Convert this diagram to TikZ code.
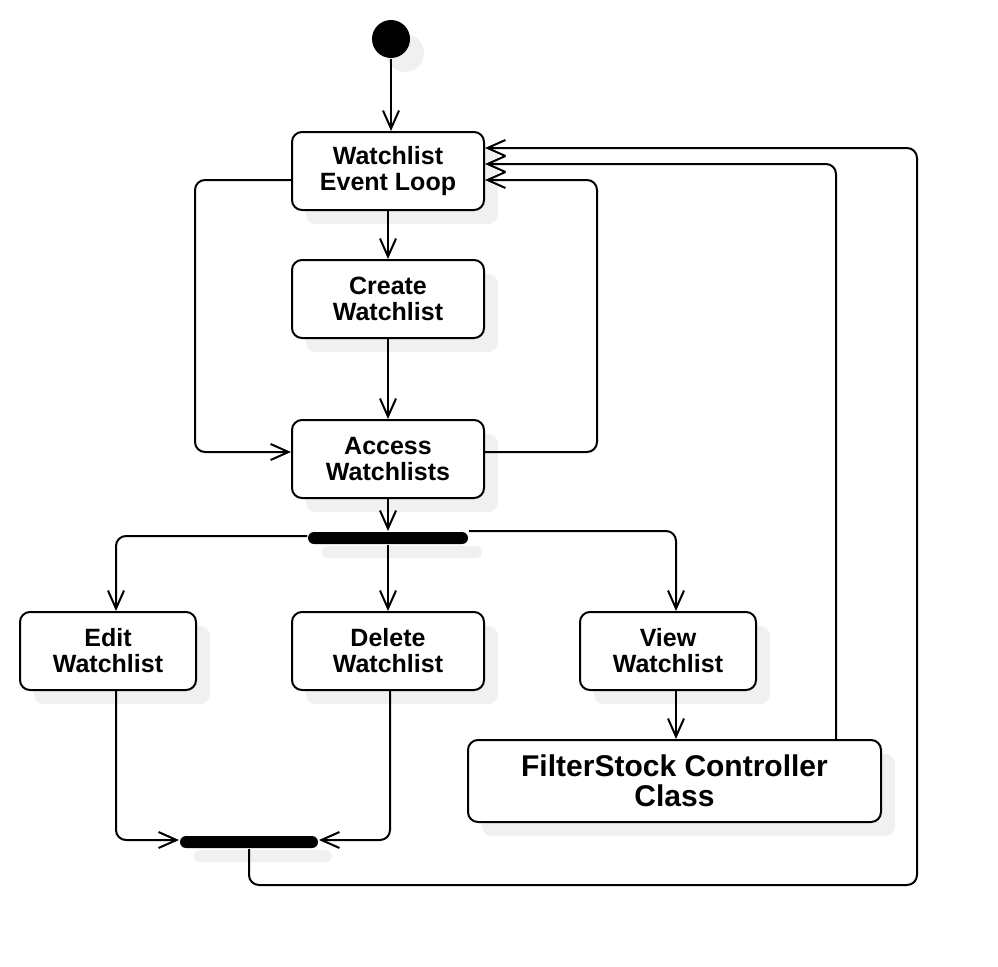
\documentclass[tikz,border=0pt]{standalone}
\usepackage{fontspec}
\setmainfont{Liberation Sans}
\usetikzlibrary{arrows.meta,shadows}

\begin{document}
\begin{tikzpicture}[x=1pt,y=-1pt,line width=2pt,>={Straight Barb[length=18pt,width=16pt]}]
  \tikzstyle{shade}=[drop shadow={shadow xshift=14pt,shadow yshift=-14pt,fill=black!6,opacity=1}]
  \tikzstyle{activity}=[draw,fill=white,rounded corners=10pt,minimum width=192pt,minimum height=78pt,inner sep=0pt,align=center,font=\fontsize{25}{26}\selectfont\bfseries,shade]
  \tikzstyle{bar}=[fill=black,rounded corners=6pt,minimum height=12pt,inner sep=0pt,shade]
  \tikzstyle{line}=[draw,->,rounded corners=10pt]
  \useasboundingbox (0,0) rectangle (998,966);
  \node[circle,fill=black,minimum size=38pt,inner sep=0pt,shade] (start) at (391,39) {};
  \node[activity] (loop) at (388,171) {Watchlist\\Event Loop};
  \node[activity] (create) at (388,299) {Create\\Watchlist};
  \node[activity] (access) at (388,459) {Access\\Watchlists};
  \node[bar,minimum width=160pt] (fork) at (388,538) {};
  \node[activity,minimum width=176pt] (edit) at (108,651) {Edit\\Watchlist};
  \node[activity] (delete) at (388,651) {Delete\\Watchlist};
  \node[activity,minimum width=176pt] (view) at (668,651) {View\\Watchlist};
  \node[activity,minimum width=413pt,minimum height=82pt,font=\fontsize{30}{30}\selectfont\bfseries] (filter) at (674.5,781) {FilterStock Controller\\Class};
  \node[bar,minimum width=138pt] (join) at (249,842) {};
  % main flow
  \path[line] (start.south) -- (start.south |- loop.north);
  \path[line] (loop) -- (create);
  \path[line] (create) -- (access);
  \path[line] (access) -- (fork);
  \path[line] ([yshift=-9pt]loop.west) -- ++(-96,0) |- ([yshift=7pt]access.west);
  \path[line] ([yshift=7pt]access.east) -- ++(112,0) |- ([yshift=-9pt]loop.east);
  % fork
  \path[line] ([yshift=2pt]fork.west) -| ([xshift=8pt]edit.north);
  \path[line] (fork) -- (delete);
  \path[line] (fork.north east) -| ([xshift=8pt]view.north);
  \path[line] ([xshift=8pt]view.south) -- ([xshift=8pt]view.south |- filter.north);
  \path[line] ([xshift=161.5pt]filter.north) |- ([yshift=7pt]loop.east);
  % join
  \path[line] ([xshift=8pt]edit.south) |- ([yshift=2pt]join.west);
  \path[line] ([xshift=2pt]delete.south) |- ([yshift=2pt]join.east);
  \path[line] (join.south) -- ++(0,36) -- ++(668,0) |- ([yshift=23pt]loop.east);
\end{tikzpicture}
\end{document}
